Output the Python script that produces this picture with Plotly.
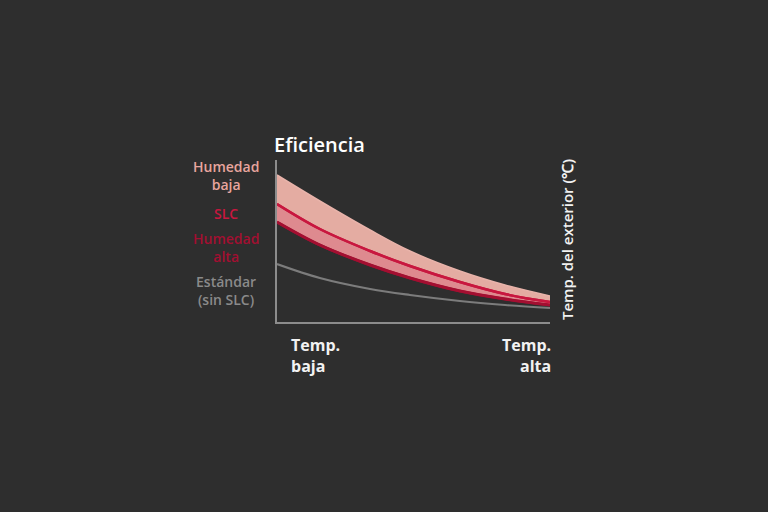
import plotly.graph_objects as go

# x positions along the outdoor-temperature axis (0 = low temp, 1 = high temp)
x_pos = [0.0, 0.157, 0.341, 0.487, 0.670, 0.835, 1.0]
# efficiency values (relative units)
humedad_baja = [147, 121, 92, 71, 51, 37, 26]
slc = [118, 93, 71, 56, 40, 28, 20]
humedad_alta = [100, 77, 57, 44, 31, 23, 17]
estandar = [58, 44, 33, 27, 21, 17, 14]

label_texts = ["Humedad<br>baja", "SLC", "Humedad<br>alta", "Estándar<br>(sin SLC)"]
label_colors = ["#e8a59e", "#c8173f", "#a30f31", "#8a8a8a"]
label_y = [175, 213, 247, 290]

BG = "#2e2e2e"
FONT = "Open Sans"

fig = go.Figure()

fig.add_trace(go.Scatter(x=x_pos, y=humedad_alta, mode="lines", line=dict(color="#a30f31", width=3, shape="spline"), hoverinfo="skip"))
fig.add_trace(go.Scatter(x=x_pos, y=slc, mode="lines", fill="tonexty", fillcolor="#de8a8f",
                         line=dict(color="#c8173f", width=2.5, shape="spline"), hoverinfo="skip"))
fig.add_trace(go.Scatter(x=x_pos, y=humedad_baja, mode="lines", fill="tonexty", fillcolor="#e4aca2",
                         line=dict(color="#e8b3aa", width=1.5, shape="spline"), hoverinfo="skip"))
fig.add_trace(go.Scatter(x=x_pos, y=slc, mode="lines", line=dict(color="#c8173f", width=2.5, shape="spline"), hoverinfo="skip"))
fig.add_trace(go.Scatter(x=x_pos, y=humedad_alta, mode="lines", line=dict(color="#a30f31", width=2.5, shape="spline"), hoverinfo="skip"))
fig.add_trace(go.Scatter(x=x_pos, y=estandar, mode="lines", line=dict(color="#7c7c7c", width=2.2, shape="spline"), hoverinfo="skip"))

fig.update_layout(
    width=768, height=512,
    paper_bgcolor=BG, plot_bgcolor=BG,
    showlegend=False,
    margin=dict(l=277, r=218, t=160, b=190),
    xaxis=dict(range=[0, 1], showgrid=False, zeroline=False, showticklabels=False,
               showline=True, linecolor="#8c8c8c", linewidth=2, ticks=""),
    yaxis=dict(range=[0, 162], showgrid=False, zeroline=False, showticklabels=False,
               showline=True, linecolor="#8c8c8c", linewidth=2, ticks=""),
    font=dict(family=FONT),
)

W0, W1 = 277, 550
H0, H1 = 160, 322
def px(xp):
    return (xp - W0) / (W1 - W0)
def py(yp):
    return (H1 - yp) / (H1 - H0)

annotations = []
for t, c, yy in zip(label_texts, label_colors, label_y):
    annotations.append(dict(x=px(226), y=py(yy), xref="paper", yref="paper", text=t, showarrow=False,
                            xanchor="center", yanchor="middle",
                            font=dict(color=c, size=14, family=FONT, weight=600), align="center"))

annotations += [
    dict(x=px(272), y=py(144), xref="paper", yref="paper", text="Eficiencia", showarrow=False,
         xanchor="left", yanchor="middle", font=dict(color="#ffffff", size=20, family=FONT, weight=600)),
    dict(x=px(289), y=py(355), xref="paper", yref="paper", text="<b>Temp.</b><br><b>baja</b>", showarrow=False,
         xanchor="left", yanchor="middle", align="left", font=dict(color="#f2f2f2", size=16, family=FONT)),
    dict(x=px(553), y=py(355), xref="paper", yref="paper", text="<b>Temp.</b><br><b>alta</b>", showarrow=False,
         xanchor="right", yanchor="middle", align="right", font=dict(color="#f2f2f2", size=16, family=FONT)),
    dict(x=px(567), y=py(240), xref="paper", yref="paper", text="Temp. del exterior (℃)", showarrow=False,
         xanchor="center", yanchor="middle",
         textangle=-90, font=dict(color="#f2f2f2", size=15, family=FONT, weight=600)),
]
fig.update_layout(annotations=annotations)

fig.write_html("out.html", config={"displayModeBar": False},
               post_script="document.body.style.margin='0';document.body.style.background='#2e2e2e';")
